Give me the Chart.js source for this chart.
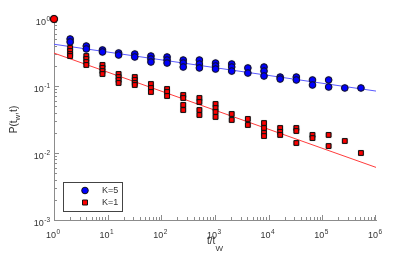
<!DOCTYPE html>
<html>
<head>
<meta charset="utf-8">
<script src="https://cdn.jsdelivr.net/npm/chart.js@4.4.1/dist/chart.umd.min.js"></script>
<style>
  html, body { margin: 0; padding: 0; background: #fff; }
  #wrap { width: 415px; height: 260px; }
</style>
</head>
<body>
<div id="wrap"><canvas id="c" width="415" height="260"></canvas></div>
<script>
// waiting-time ratio t/t_w (one column of points per value)
const tRatio = [1, 2, 4, 8, 16, 32, 64, 128, 256, 512, 1024, 2048, 4096,
  8192, 16384, 32768, 65536, 131072, 262144, 524288];

// P(t_w,t) for K=5, several runs per column
const k5Prob = [
  [1.0], [0.503, 0.454], [0.395, 0.357], [0.345, 0.322], [0.311, 0.290],
  [0.300, 0.271], [0.280, 0.253, 0.228], [0.271, 0.244, 0.220],
  [0.244, 0.220, 0.192], [0.244, 0.213, 0.186], [0.220, 0.199, 0.179],
  [0.213, 0.192, 0.167], [0.186, 0.156], [0.192, 0.167, 0.141],
  [0.136, 0.127], [0.136, 0.123], [0.123, 0.1035], [0.123, 0.0966],
  [0.0934], [0.0934]
];

// P(t_w,t) for K=1
const k1Prob = [
  [1.0], [0.369, 0.333, 0.300, 0.280], [0.280, 0.253, 0.228, 0.206],
  [0.206, 0.186, 0.167, 0.151], [0.151, 0.136, 0.123, 0.111],
  [0.136, 0.123, 0.111, 0.1035], [0.107, 0.0934, 0.0814],
  [0.0902, 0.0814, 0.0709], [0.0734, 0.0662, 0.0521, 0.0438],
  [0.0662, 0.0577, 0.0438, 0.0369], [0.0539, 0.0469, 0.0409, 0.0345],
  [0.0382, 0.0311], [0.0322, 0.0262], [0.0280, 0.0236, 0.0199, 0.0179],
  [0.0236, 0.0206, 0.0186], [0.0236, 0.0213, 0.0141], [0.0186, 0.0167],
  [0.0186, 0.0127], [0.0151], [0.0100]
];

// power-law fits, end points
const fitX = [1, 1e6];
const k5Fit = [0.42, 0.084];
const k1Fit = [0.31, 0.0061];

const xDecades = [0, 1, 2, 3, 4, 5, 6];
const yDecades = [0, -1, -2, -3];

const toPoints = (xs, ys) => xs.flatMap((x, i) => ys[i].map(v => ({ x: x, y: v })));
const fitPoints = (ys) => fitX.map((x, i) => ({ x: x, y: ys[i] }));

const k1Pts = toPoints(tRatio, k1Prob);
const k1Styles = k1Pts.map((p, i) => i === 0 ? 'circle' : 'rect');
const k1Radius = k1Pts.map((p, i) => i === 0 ? 3.6 : 3.4);

const FONT = '"Liberation Sans", Arial, Helvetica, sans-serif';
const TXT = '#333';
const AXIS = '#8c8c8c';

function drawPow(ctx, exp, x, y, align) {
  ctx.font = '9px ' + FONT;
  const wb = ctx.measureText('10').width;
  ctx.font = '6.5px ' + FONT;
  const we = ctx.measureText(exp).width;
  const total = wb + we + 0.5;
  let x0 = align === 'right' ? x - total : x - total / 2;
  ctx.textAlign = 'left';
  ctx.textBaseline = 'alphabetic';
  ctx.font = '9px ' + FONT;
  ctx.fillText('10', x0, y);
  ctx.font = '6.5px ' + FONT;
  ctx.fillText(exp, x0 + wb + 0.5, y - 4.5);
}

function expText(d) {
  return d < 0 ? '-' + Math.abs(d) : String(d);
}

const decor = {
  id: 'decor',
  beforeDatasetsDraw(chart) {
    const { ctx, scales: { x, y }, chartArea: a } = chart;
    ctx.save();
    ctx.strokeStyle = AXIS;
    ctx.lineWidth = 1;
    ctx.beginPath();
    for (let d = 0; d < 6; d++) {
      for (let m = 1; m < 10; m++) {
        const px = Math.round(x.getPixelForValue(m * Math.pow(10, d))) + 0.5;
        const len = m === 1 ? 5 : 3;
        ctx.moveTo(px, a.bottom);
        ctx.lineTo(px, a.bottom - len);
      }
    }
    const pxEnd = Math.round(x.getPixelForValue(1e6)) - 0.5;
    ctx.moveTo(pxEnd, a.bottom);
    ctx.lineTo(pxEnd, a.bottom - 5);
    for (let d = -3; d < 0; d++) {
      for (let m = 1; m < 10; m++) {
        const py = Math.round(y.getPixelForValue(m * Math.pow(10, d))) + 0.5;
        const len = m === 1 ? 5 : 3;
        ctx.moveTo(a.left, py);
        ctx.lineTo(a.left + len, py);
      }
    }
    ctx.stroke();

    ctx.fillStyle = TXT;
    xDecades.forEach(d => {
      drawPow(ctx, expText(d), x.getPixelForValue(Math.pow(10, d)) - 1, a.bottom + 18, 'center');
    });
    yDecades.forEach(d => {
      drawPow(ctx, expText(d), a.left - 4, y.getPixelForValue(Math.pow(10, d)) + 6, 'right');
    });

    // x title: t/t_W
    ctx.textBaseline = 'alphabetic';
    ctx.textAlign = 'left';
    ctx.font = '10px ' + FONT;
    const w1 = ctx.measureText('t/t').width;
    ctx.font = '8px ' + FONT;
    const w2 = ctx.measureText('W').width;
    let tx = (a.left + a.right) / 2 - (w1 + w2) / 2;
    ctx.font = '10px ' + FONT;
    ctx.fillText('t/t', tx, 244);
    ctx.font = '8px ' + FONT;
    ctx.fillText('W', tx + w1, 250.5);

    // y title: P(t_w,t)
    ctx.save();
    ctx.translate(17, (a.top + a.bottom) / 2);
    ctx.rotate(-Math.PI / 2);
    ctx.font = '10px ' + FONT;
    const s1 = ctx.measureText('P(t').width;
    const s3 = ctx.measureText(',t)').width;
    ctx.font = '8px ' + FONT;
    const s2 = ctx.measureText('w').width;
    let sx = -(s1 + s2 + s3) / 2;
    ctx.font = '10px ' + FONT;
    ctx.fillText('P(t', sx, 0);
    ctx.font = '8px ' + FONT;
    ctx.fillText('w', sx + s1, 3);
    ctx.font = '10px ' + FONT;
    ctx.fillText(',t)', sx + s1 + s2, 0);
    ctx.restore();
    ctx.restore();
  },
  beforeDatasetDraw(chart, args) {
    if (chart.data.datasets[args.index].showLine) return;
    const ctx = chart.ctx;
    ctx.save();
    ctx.shadowColor = 'rgba(0,0,0,0.35)';
    ctx.shadowBlur = 1;
  },
  afterDatasetDraw(chart, args) {
    if (chart.data.datasets[args.index].showLine) return;
    chart.ctx.restore();
  },
  afterDraw(chart) {
    const ctx = chart.ctx;
    ctx.save();
    ctx.fillStyle = '#fff';
    ctx.fillRect(63.5, 182.5, 59, 29);
    ctx.strokeStyle = '#444';
    ctx.lineWidth = 1;
    ctx.strokeRect(63.5, 182.5, 59, 29);
    const items = [
      { label: 'K=5', style: 'circle', fill: '#0000ff', y: 190.5 },
      { label: 'K=1', style: 'rect', fill: '#ff0000', y: 202.5 }
    ];
    items.forEach(it => {
      ctx.fillStyle = it.fill;
      ctx.strokeStyle = '#111';
      ctx.beginPath();
      if (it.style === 'circle') {
        ctx.arc(85, it.y, 3.3, 0, Math.PI * 2);
      } else {
        ctx.rect(82.5, it.y - 2.5, 5, 5);
      }
      ctx.fill();
      ctx.stroke();
      ctx.fillStyle = TXT;
      ctx.font = '9px ' + FONT;
      ctx.textAlign = 'left';
      ctx.textBaseline = 'middle';
      ctx.fillText(it.label, 102, it.y + 0.5);
    });
    ctx.restore();
  }
};

new Chart(document.getElementById('c').getContext('2d'), {
  type: 'scatter',
  data: {
    datasets: [
      {
        label: 'K=1',
        data: k1Pts,
        pointStyle: k1Styles,
        pointRadius: k1Radius,
        backgroundColor: '#ff0000',
        borderColor: '#111',
        borderWidth: 1,
        clip: false
      },
      {
        label: 'K=5',
        data: toPoints(tRatio, k5Prob),
        pointStyle: 'circle',
        pointRadius: 3.3,
        backgroundColor: '#0000ff',
        borderColor: '#111133',
        borderWidth: 1,
        clip: false
      },
      {
        label: 'K=5 fit',
        data: fitPoints(k5Fit),
        showLine: true,
        pointRadius: 0,
        borderColor: '#5a5aff',
        borderWidth: 1
      },
      {
        label: 'K=1 fit',
        data: fitPoints(k1Fit),
        showLine: true,
        pointRadius: 0,
        borderColor: '#ff3c3c',
        borderWidth: 1
      }
    ]
  },
  options: {
    responsive: false,
    animation: false,
    layout: { padding: { left: 54, right: 39, top: 19, bottom: 40 } },
    plugins: { legend: { display: false }, tooltip: { enabled: false } },
    scales: {
      x: {
        type: 'logarithmic',
        min: 1,
        max: 1e6,
        grid: { display: false, drawTicks: false },
        border: { display: true, color: AXIS, width: 1 },
        ticks: { display: false }
      },
      y: {
        type: 'logarithmic',
        min: 0.001,
        max: 1,
        grid: { display: false, drawTicks: false },
        border: { display: true, color: AXIS, width: 1 },
        ticks: { display: false }
      }
    }
  },
  plugins: [decor]
});
</script>
</body>
</html>
